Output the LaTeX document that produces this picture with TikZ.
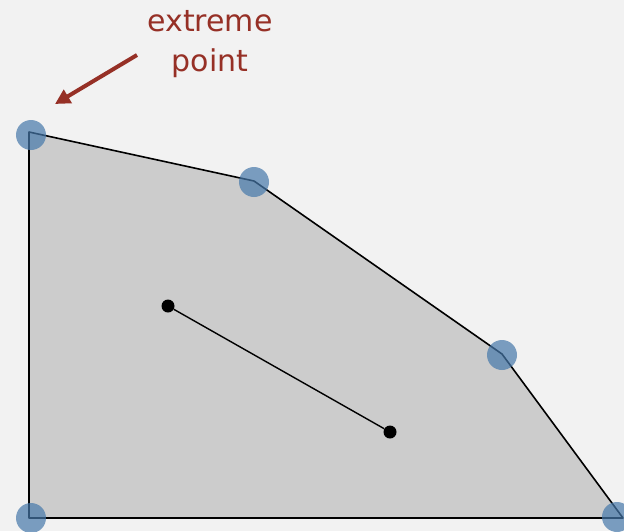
\documentclass[tikz,border=0pt]{standalone}
\usepackage{fontspec}
\setmainfont{DejaVu Sans}
\usetikzlibrary{arrows.meta}
\definecolor{bgGray}   {RGB}{242,242,242}
\definecolor{hullGray} {RGB}{204,204,204}
\definecolor{extBlue}  {RGB}{70, 120,170}
\definecolor{labelRed} {RGB}{150, 48, 38}
\begin{document}
\begin{tikzpicture}[x=1pt,y=-1pt,
    vertex/.style={circle,fill=extBlue,fill opacity=0.7,minimum size=30pt,inner sep=0pt},
    pt/.style={circle,fill=black,minimum size=13pt,inner sep=0pt}]

    % background and frame
    \fill[bgGray] (0,0) rectangle (624,531);
    \useasboundingbox (0,0) rectangle (624,531);

    % convex region
    \coordinate (v1) at (29,132);
    \coordinate (v2) at (254,181);
    \coordinate (v3) at (502,354);
    \coordinate (v4) at (623,518);
    \coordinate (v5) at (29,518);
    \filldraw[fill=hullGray,draw=black,line width=1.6pt,line join=round]
      (v1) -- (v2) -- (v3) -- (v4) -- (v5) -- cycle;

    % extreme points
    \node[vertex] (e1) at (31,135) {};
    \node[vertex] (e2) at (254,182) {};
    \node[vertex] (e3) at (502,355) {};
    \node[vertex] (e4) at (617,517) {};
    \node[vertex] (e5) at (31,518) {};

    % segment between two interior points
    \node[pt] (p) at (168,306) {};
    \node[pt] (q) at (390,432) {};
    \draw[line width=1.4pt] (p) -- (q);

    % label
    \node[labelRed,font=\fontsize{30}{40}\selectfont,align=center] (lbl) at (210,44)
      {extreme\\point};
    \coordinate (tail) at (137,55);
    \coordinate (tip) at (55,104);
    \draw[-{Triangle[length=15pt,width=15pt]},labelRed,line width=4pt] (tail) -- (tip);

\end{tikzpicture}
\end{document}
